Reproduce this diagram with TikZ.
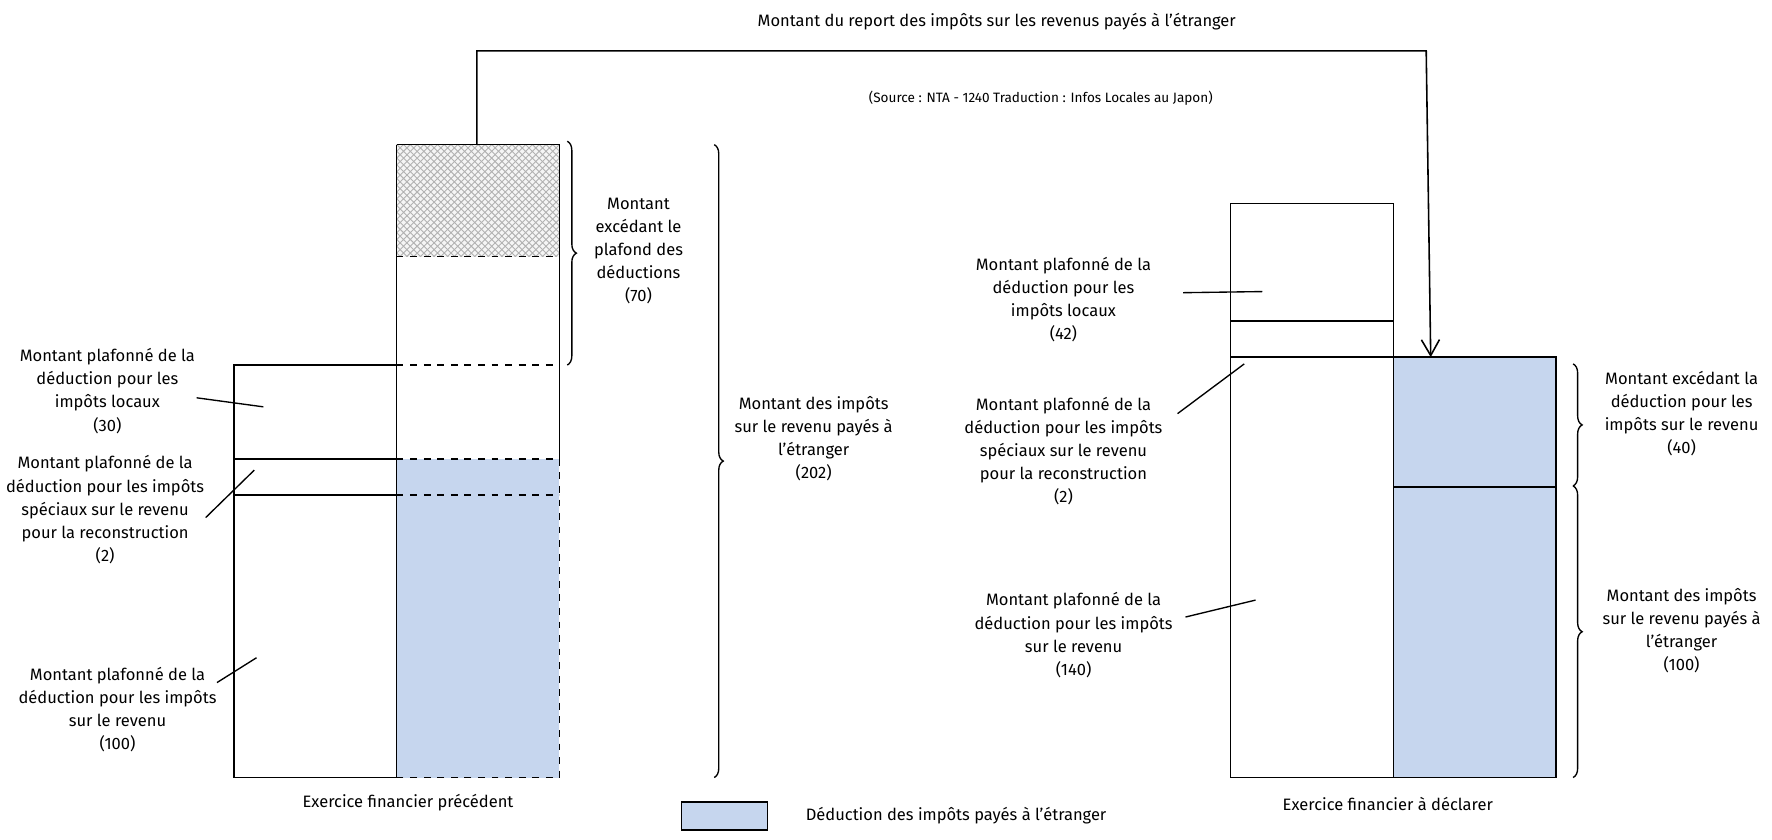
\documentclass[tikz,border=0pt]{standalone}
\usepackage{fontspec}
\setmainfont{Fira Sans}
\usetikzlibrary{patterns,decorations.pathreplacing,arrows.meta}
\definecolor{fblue}{HTML}{C6D6EE}
\begin{document}
\begin{tikzpicture}[x=0.5pt,y=-0.5pt,
  lbl/.style={align=center,font=\fontsize{7.3}{10.2}\selectfont,inner sep=0pt},
  box/.style={draw=black,line width=0.7pt},
  dbox/.style={draw=black,line width=0.7pt,dashed},
  br/.style={decorate,decoration={brace,amplitude=4pt},line width=0.6pt},
  lead/.style={line width=0.6pt}]
\useasboundingbox (0,0) rectangle (1568,743);
% left chart
\draw[box] (207,323) rectangle (351,688);
\draw[box] (207,406) -- (351,406);
\draw[box] (207,438) -- (351,438);
\fill[fblue] (351,406) rectangle (495,688);
\fill[gray!8] (351,128) rectangle (495,227);
\fill[pattern=crosshatch,pattern color=gray!60] (351,128) rectangle (495,227);
\draw[box] (351,128) -- (495,128) -- (495,406);
\draw[box] (351,128) -- (351,688);
\draw[dbox] (351,227) -- (495,227);
\draw[dbox] (351,323) -- (495,323);
\draw[dbox] (351,406) -- (495,406);
\draw[dbox] (351,438) -- (495,438);
\draw[dbox] (495,406) -- (495,688) -- (351,688);
% right chart
\fill[fblue] (1233,316) rectangle (1377,688);
\draw[box] (1089,180) rectangle (1233,688);
\draw[box] (1089,284) -- (1233,284);
\draw[box] (1089,316) -- (1377,316) -- (1377,688) -- (1233,688);
\draw[box] (1233,431) -- (1377,431);
% arrow
\coordinate (a0) at (422,128);
\coordinate (a1) at (422,45);
\coordinate (a2) at (1262,45);
\coordinate (a3) at (1266,316);
\draw[line width=0.7pt,-{Straight Barb[length=7pt,width=8pt]}] (a0) -- (a1) -- (a2) -- (a3);
% braces
\draw[br] (502,125) -- (502,323);
\draw[br] (632,128) -- (632,688);
\draw[br] (1392,322) -- (1392,430);
\draw[br] (1392,430) -- (1392,688);
% texts
\node[lbl] (t) at (882,19) {Montant du report des impôts sur les revenus payés à l'étranger};
\node[lbl,font=\fontsize{6}{8}\selectfont] (src) at (921,87) {(Source : NTA - 1240 Traduction : Infos Locales au Japon)};
\node[lbl] (b1) at (565,222) {Montant\\excédant le\\plafond des\\déductions\\(70)};
\node[lbl] (b2) at (720,388) {Montant des impôts\\sur le revenu payés à\\l'étranger\\(202)};
\node[lbl] (b3) at (1488,366) {Montant excédant la\\déduction pour les\\impôts sur le revenu\\(40)};
\node[lbl] (b4) at (1488,558) {Montant des impôts\\sur le revenu payés à\\l'étranger\\(100)};
\node[lbl] (l1) at (95,346) {Montant plafonné de la\\déduction pour les\\impôts locaux\\(30)};
\node[lbl] (l2) at (93,451) {Montant plafonné de la\\déduction pour les impôts\\spéciaux sur le revenu\\pour la reconstruction\\(2)};
\node[lbl] (l3) at (104,628) {Montant plafonné de la\\déduction pour les impôts\\sur le revenu\\(100)};
\node[lbl] (r1) at (941,265) {Montant plafonné de la\\déduction pour les\\impôts locaux\\(42)};
\node[lbl] (r2) at (941,399) {Montant plafonné de la\\déduction pour les impôts\\spéciaux sur le revenu\\pour la reconstruction\\(2)};
\node[lbl] (r3) at (950,562) {Montant plafonné de la\\déduction pour les impôts\\sur le revenu\\(140)};
\node[lbl] (x1) at (361,710) {Exercice financier précédent};
\node[lbl] (x2) at (1228,711) {Exercice financier à déclarer};
\node[box,fill=fblue,minimum width=38pt,minimum height=12.5pt,inner sep=0pt] (leg) at (641,722) {};
\node[lbl] (legt) at (846,722) {Déduction des impôts payés à l'étranger};
% leaders
\coordinate (p1) at (233,360); \coordinate (p2) at (225,416); \coordinate (p3) at (227,582);
\coordinate (q1) at (1117,258); \coordinate (q2) at (1101,322); \coordinate (q3) at (1111,531);
\draw[lead] (174,352) -- (p1);
\draw[lead] (182,458) -- (p2);
\draw[lead] (192,604) -- (p3);
\draw[lead] (1047,259) -- (q1);
\draw[lead] (1042,366) -- (q2);
\draw[lead] (1049,546) -- (q3);
\end{tikzpicture}
\end{document}
